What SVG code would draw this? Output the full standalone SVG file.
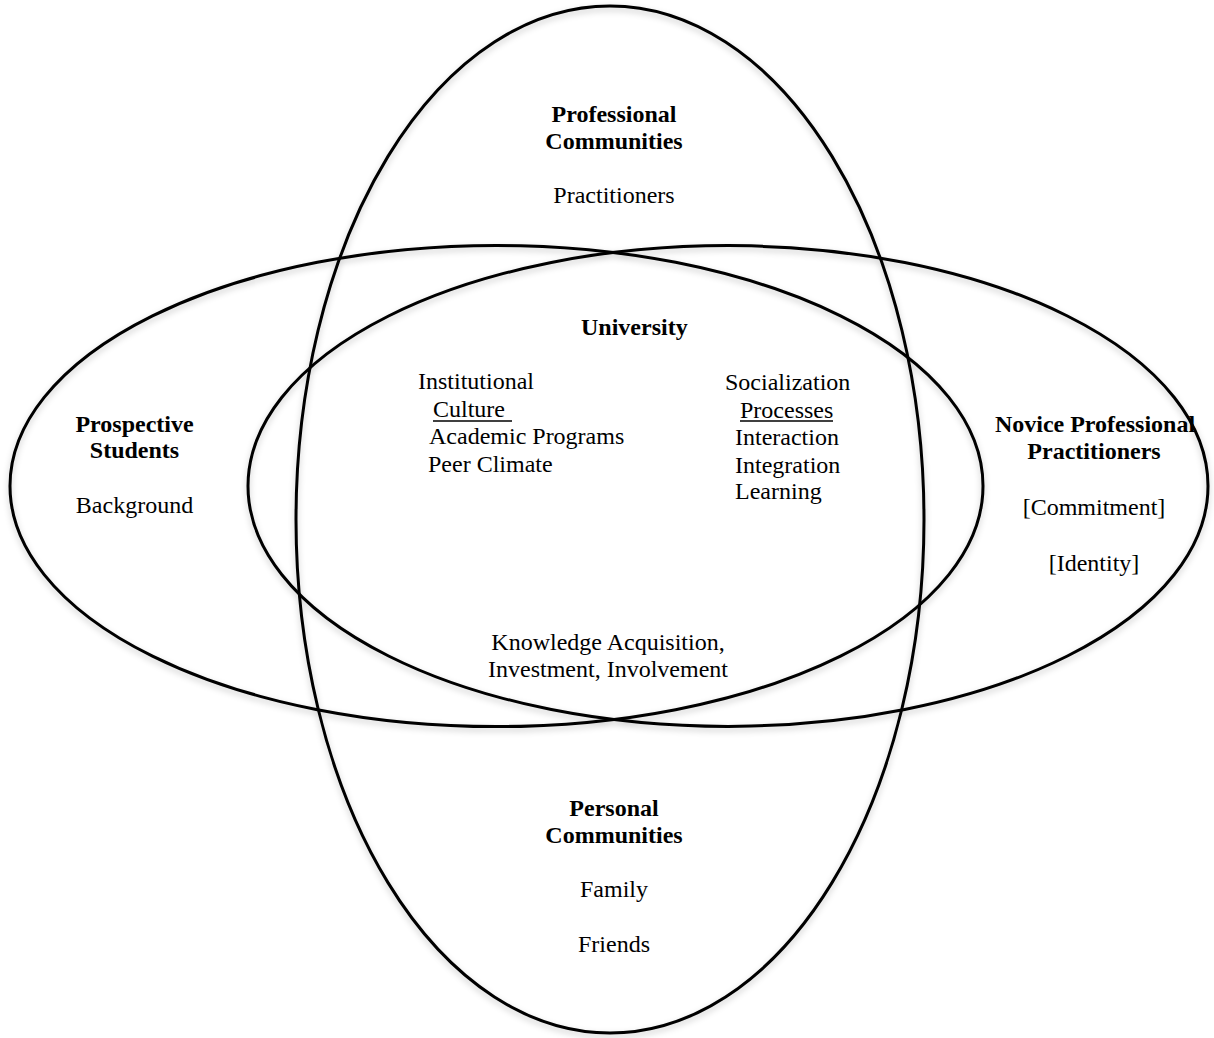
<svg xmlns="http://www.w3.org/2000/svg" width="1214" height="1038" viewBox="0 0 1214 1038">
  <defs>
    <filter id="shadow" x="-5%" y="-5%" width="110%" height="110%">
      <feDropShadow dx="0" dy="3" stdDeviation="3" flood-color="#000" flood-opacity="0.22"/>
    </filter>
  </defs>
  <style>
    .ring { fill: none; stroke: #000; stroke-width: 3; }
    text { font-family: "Liberation Serif", "Times New Roman", serif; font-size: 24px; fill: #000; }
    .b { font-weight: bold; }
    .c { text-anchor: middle; }
    .ul { stroke: #000; stroke-width: 1.6; }
  </style>
  <rect width="1214" height="1038" fill="#fff"/>
  <g id="shapes" filter="url(#shadow)">
    <ellipse id="prospective-ellipse" class="ring" cx="496.5" cy="486" rx="486.5" ry="240.6"/>
    <ellipse id="novice-ellipse" class="ring" cx="728" cy="486" rx="480" ry="240.4"/>
    <ellipse id="communities-ellipse" class="ring" cx="610" cy="519.5" rx="314" ry="513.5"/>
  </g>
  <g id="connectors"></g>
  <g id="professional-communities">
    <text class="b c" x="614" y="122">Professional</text>
    <text class="b c" x="614" y="149">Communities</text>
    <text class="c" x="614" y="203">Practitioners</text>
  </g>
  <g id="university">
    <text class="b" x="581" y="335">University</text>
    <text x="418" y="389">Institutional</text>
    <text x="433" y="417">Culture</text>
    <line class="ul" x1="433" y1="421" x2="512" y2="421"/>
    <text x="429" y="444">Academic Programs</text>
    <text x="428" y="472">Peer Climate</text>
    <text x="725" y="390">Socialization</text>
    <text x="740" y="418">Processes</text>
    <line class="ul" x1="740" y1="421" x2="833" y2="421"/>
    <text x="735" y="445">Interaction</text>
    <text x="735" y="473">Integration</text>
    <text x="735" y="499">Learning</text>
    <text class="c" x="608" y="650">Knowledge Acquisition,</text>
    <text class="c" x="608" y="677">Investment, Involvement</text>
  </g>
  <g id="prospective-students">
    <text class="b c" x="134.5" y="432">Prospective</text>
    <text class="b c" x="134.5" y="458">Students</text>
    <text class="c" x="134.5" y="513">Background</text>
  </g>
  <g id="novice-professional-practitioners">
    <text class="b c" x="1095" y="432">Novice Professional</text>
    <text class="b c" x="1094" y="459">Practitioners</text>
    <text class="c" x="1094" y="515">[Commitment]</text>
    <text class="c" x="1094" y="571">[Identity]</text>
  </g>
  <g id="personal-communities">
    <text class="b c" x="614" y="816">Personal</text>
    <text class="b c" x="614" y="843">Communities</text>
    <text class="c" x="614" y="897">Family</text>
    <text class="c" x="614" y="952">Friends</text>
  </g>
</svg>
